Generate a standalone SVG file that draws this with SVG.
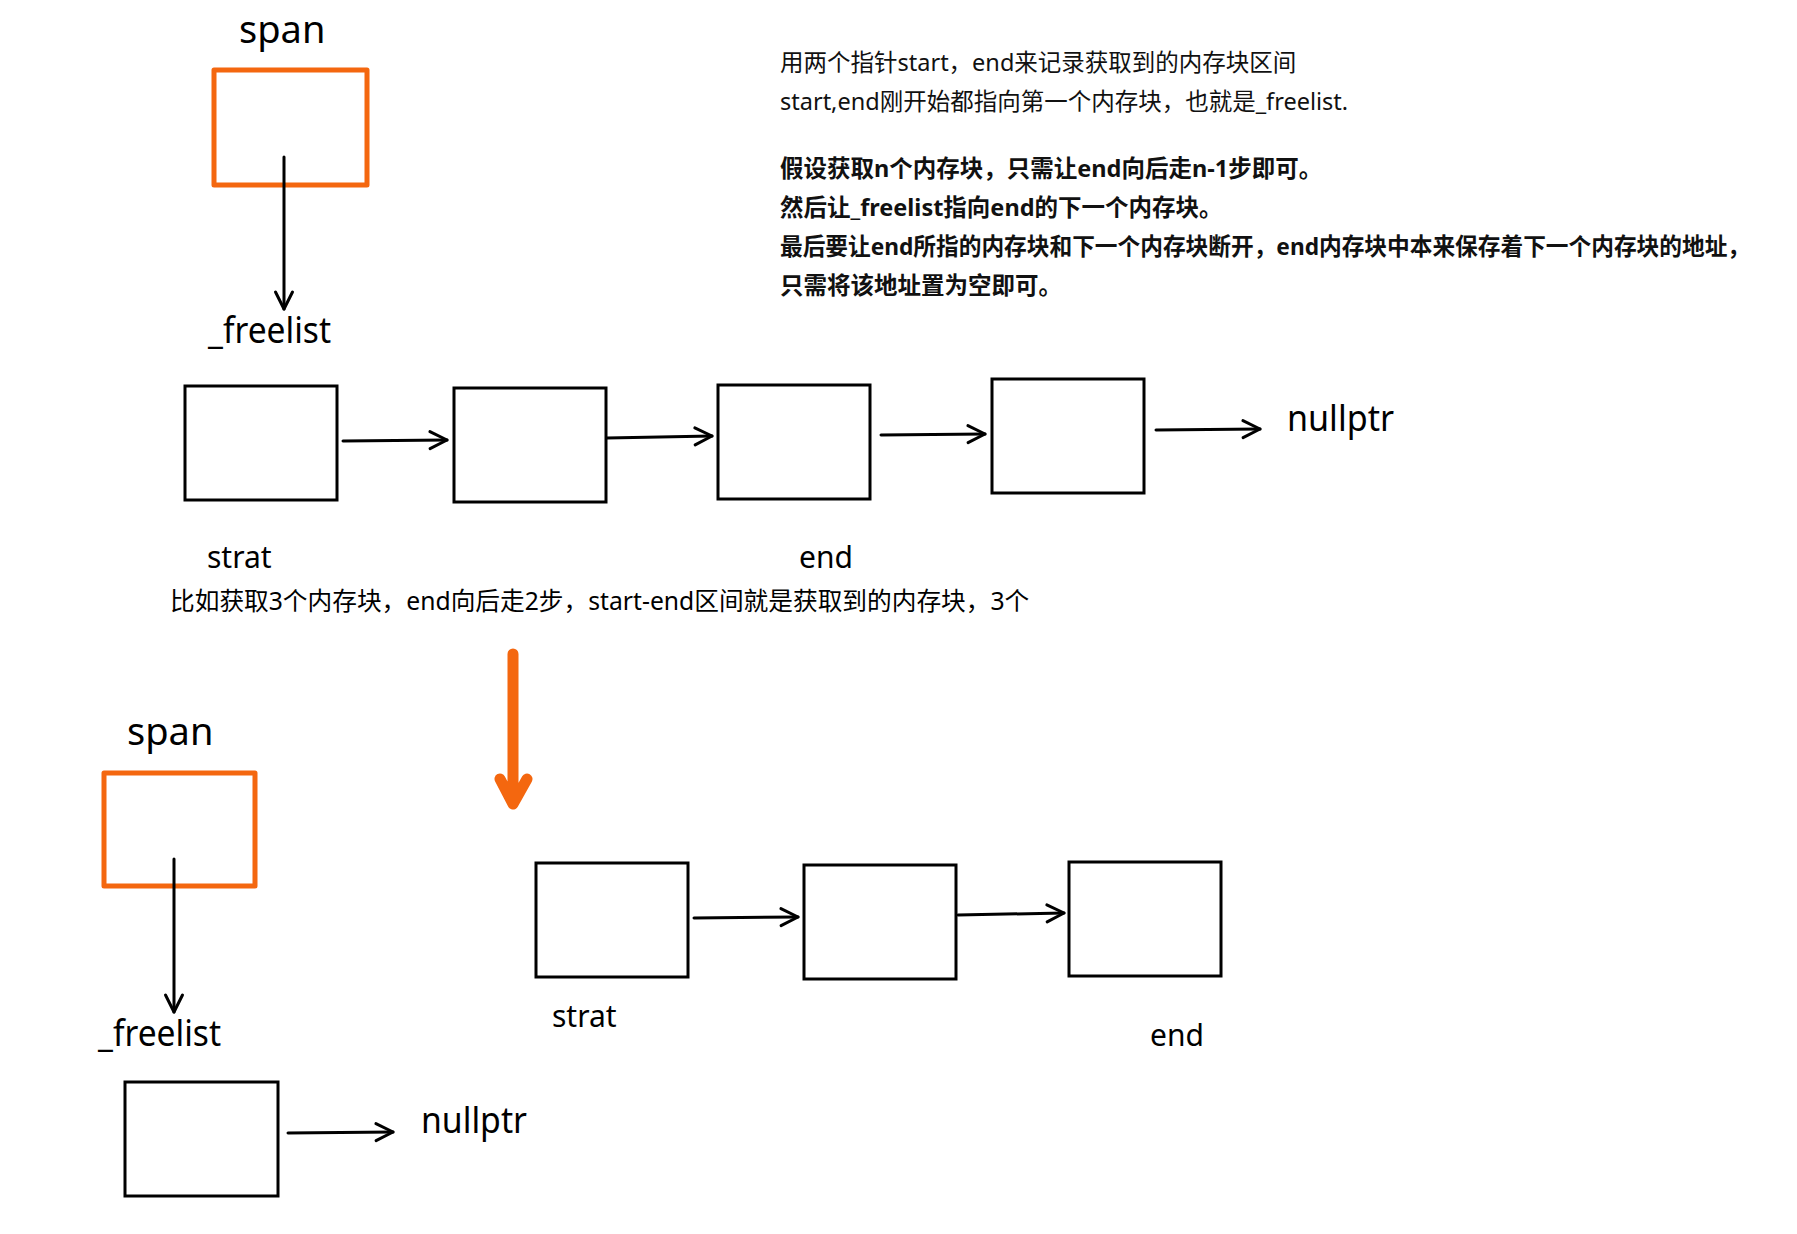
<svg xmlns="http://www.w3.org/2000/svg" width="1797" height="1234" viewBox="0 0 1797 1234">
<style>
.lbl{font-family:"Noto Sans","Noto Sans CJK SC",sans-serif;fill:#000}
.big{font-size:38px}
.mid{font-size:37px}
.sm{font-size:30px}
.note{font-family:"Noto Sans","Noto Sans CJK SC",sans-serif;font-size:23.5px;fill:#111}
.bold{font-weight:bold}
.box{fill:#fff;stroke:#000;stroke-width:3}
.span{fill:#fff;stroke:#F4670F;stroke-width:5;stroke-linejoin:round}
.edge{fill:none;stroke:#000;stroke-width:3;stroke-linecap:round}
</style>
<defs>
<marker id="ah" viewBox="-20 -11 23 22" markerWidth="23" markerHeight="22" refX="0" refY="0" orient="auto" markerUnits="userSpaceOnUse">
<path d="M-17,-8.5 L0,0 L-17,8.5" fill="none" stroke="#000" stroke-width="3" stroke-linecap="round" stroke-linejoin="round"/>
</marker>
</defs>
<rect width="1797" height="1234" fill="#fff"/>

<g id="span-top">
<text class="lbl big" x="239" y="43">span</text>
<rect class="span" x="214" y="70" width="153" height="115"/>
</g>
<g id="freelist-top"><text class="lbl mid" x="208" y="343" textLength="123" lengthAdjust="spacingAndGlyphs">_freelist</text></g>
<g id="node1"><rect class="box" x="185" y="386" width="152" height="114"/></g>
<g id="node2"><rect class="box" x="454" y="388" width="152" height="114"/></g>
<g id="node3"><rect class="box" x="718" y="385" width="152" height="114"/></g>
<g id="node4"><rect class="box" x="992" y="379" width="152" height="114"/></g>
<g id="nullptr-top"><text class="lbl mid" x="1287" y="431" textLength="107" lengthAdjust="spacingAndGlyphs">nullptr</text></g>
<g id="strat-top"><text class="lbl sm" x="207" y="568">strat</text></g>
<g id="end-top"><text class="lbl sm" x="799" y="568">end</text></g>

<g id="caption"><text class="lbl" style="font-size:24.7px" x="170" y="610">比如获取3个内存块，end向后走2步，start-end区间就是获取到的内存块，3个</text></g>

<g id="notes">
<text class="note" x="780" y="71">用两个指针start，end来记录获取到的内存块区间</text>
<text class="note" x="780" y="110">start,end刚开始都指向第一个内存块，也就是_freelist.</text>
<text class="note bold" x="780" y="177">假设获取n个内存块，只需让end向后走n-1步即可。</text>
<text class="note bold" x="780" y="216">然后让_freelist指向end的下一个内存块。</text>
<text class="note bold" x="780" y="255" textLength="970" lengthAdjust="spacingAndGlyphs">最后要让end所指的内存块和下一个内存块断开，end内存块中本来保存着下一个内存块的地址，</text>
<text class="note bold" x="780" y="294">只需将该地址置为空即可。</text>
</g>

<g id="span-bottom">
<text class="lbl big" x="127" y="745">span</text>
<rect class="span" x="104" y="773" width="151" height="113"/>
</g>
<g id="freelist-bottom"><text class="lbl mid" x="98" y="1046" textLength="123" lengthAdjust="spacingAndGlyphs">_freelist</text></g>
<g id="node5"><rect class="box" x="125" y="1082" width="153" height="114"/></g>
<g id="nullptr-bottom"><text class="lbl mid" x="421" y="1133" textLength="106" lengthAdjust="spacingAndGlyphs">nullptr</text></g>
<g id="node6"><rect class="box" x="536" y="863" width="152" height="114"/></g>
<g id="node7"><rect class="box" x="804" y="865" width="152" height="114"/></g>
<g id="node8"><rect class="box" x="1069" y="862" width="152" height="114"/></g>
<g id="strat-bottom"><text class="lbl sm" x="552" y="1027">strat</text></g>
<g id="end-bottom"><text class="lbl sm" x="1150" y="1046">end</text></g>

<g id="connectors">
<line class="edge" x1="284" y1="157" x2="284" y2="309" marker-end="url(#ah)"/>
<line class="edge" x1="343" y1="441" x2="447" y2="440" marker-end="url(#ah)"/>
<line class="edge" x1="607" y1="438" x2="712" y2="436" marker-end="url(#ah)"/>
<line class="edge" x1="881" y1="435" x2="985" y2="434" marker-end="url(#ah)"/>
<line class="edge" x1="1156" y1="430" x2="1260" y2="429" marker-end="url(#ah)"/>
<line class="edge" x1="174" y1="859" x2="174" y2="1012" marker-end="url(#ah)"/>
<line class="edge" x1="288" y1="1133" x2="393" y2="1132" marker-end="url(#ah)"/>
<line class="edge" x1="694" y1="918" x2="798" y2="917" marker-end="url(#ah)"/>
<line class="edge" x1="958" y1="915" x2="1064" y2="913" marker-end="url(#ah)"/>
<path d="M513,654 L513,803 M500,779 L513,804 L527,779" fill="none" stroke="#F4670F" stroke-width="11" stroke-linecap="round" stroke-linejoin="round"/>
</g>
</svg>
